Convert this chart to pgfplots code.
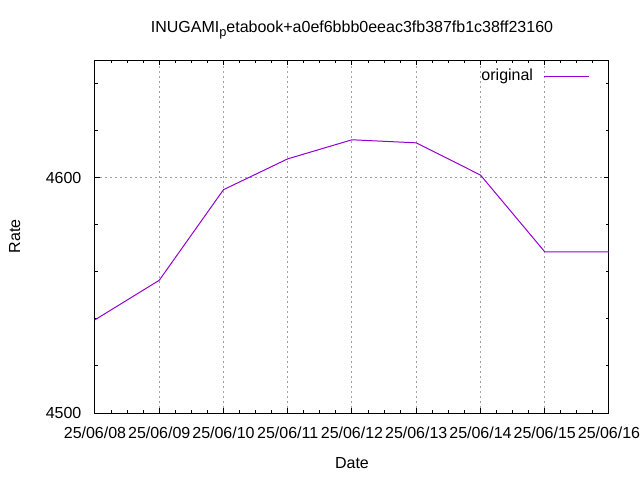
\documentclass[border=0pt]{standalone}
\usepackage{pgfplots}
\pgfplotsset{compat=1.18}
\usepackage{fontspec}
\setmainfont{Liberation Sans}
\definecolor{gpviolet}{HTML}{9400D3}
\definecolor{gpgrid}{HTML}{A0A0A0}
\begin{document}
\begin{tikzpicture}
\begin{axis}[
  name=ax,
  scale only axis,
  width=385.5pt, height=264.75pt,
  xmin=0, xmax=8, ymin=4500, ymax=4650,
  xtick={0,1,2,3,4,5,6,7,8},
  xticklabels={25/06/08,25/06/09,25/06/10,25/06/11,25/06/12,25/06/13,25/06/14,25/06/15,25/06/16},
  minor x tick num=3,
  ytick={4500,4600},
  minor ytick={4520,4540,4560,4580,4620,4640},
  tick align=inside,
  major tick length=3.5pt,
  minor tick length=2.25pt,
  tick style={black, line width=0.75pt},
  axis line style={line width=0.75pt},
  grid=major,
  major grid style={gpgrid, line width=0.75pt, dash pattern=on 1.5pt off 2.25pt},
  /pgf/number format/assume math mode=true,
  /pgf/number format/1000 sep={},
  font=\fontsize{12}{14}\selectfont,
  ticklabel style={font=\fontsize{12}{14}\selectfont},
  xticklabel style={anchor=base, yshift=-18.75pt, inner sep=0pt},
  yticklabel style={anchor=east, xshift=-10pt, inner sep=0pt},
  every axis title shift=0pt,
  title={INUGAMI{\fontsize{9.6}{10}\selectfont\raisebox{-2.6pt}{p}}etabook+a0ef6bbb0eeac3fb387fb1c38ff23160},
  title style={at={(axis description cs:0.5,1.0765)}, anchor=base, inner sep=0pt, font=\fontsize{12}{14}\selectfont},
  xlabel={Date},
  xlabel style={at={(axis description cs:0.5,-0.1558)}, anchor=base, inner sep=0pt, font=\fontsize{12}{14}\selectfont},
  ylabel={Rate},
  ylabel style={at={(axis description cs:-0.1459,0.5)}, anchor=base, rotate=0, inner sep=0pt, font=\fontsize{12}{14}\selectfont},
  legend style={draw=none, fill=none, at={(axis description cs:0.962,0.982)}, anchor=north east, inner sep=0pt, font=\fontsize{12}{14}\selectfont},
  legend plot pos=right,
  legend image code/.code={\path (0pt,0pt); \draw[#1] (5.6pt,0pt) -- (39.35pt,0pt);},
]
\addplot[gpviolet, line width=0.75pt, mark=none] coordinates {
  (0,4539.6) (1,4556.4) (2,4594.9) (3,4608.0) (4,4616.1) (5,4614.8) (6,4601.1) (7,4568.5) (8,4568.5)
};
\addlegendentry{original}
\end{axis}
\pgfresetboundingbox
\path (ax.south west) ++(-71.25pt,-50.25pt) rectangle ++(480pt,360pt);
\end{tikzpicture}
\end{document}
